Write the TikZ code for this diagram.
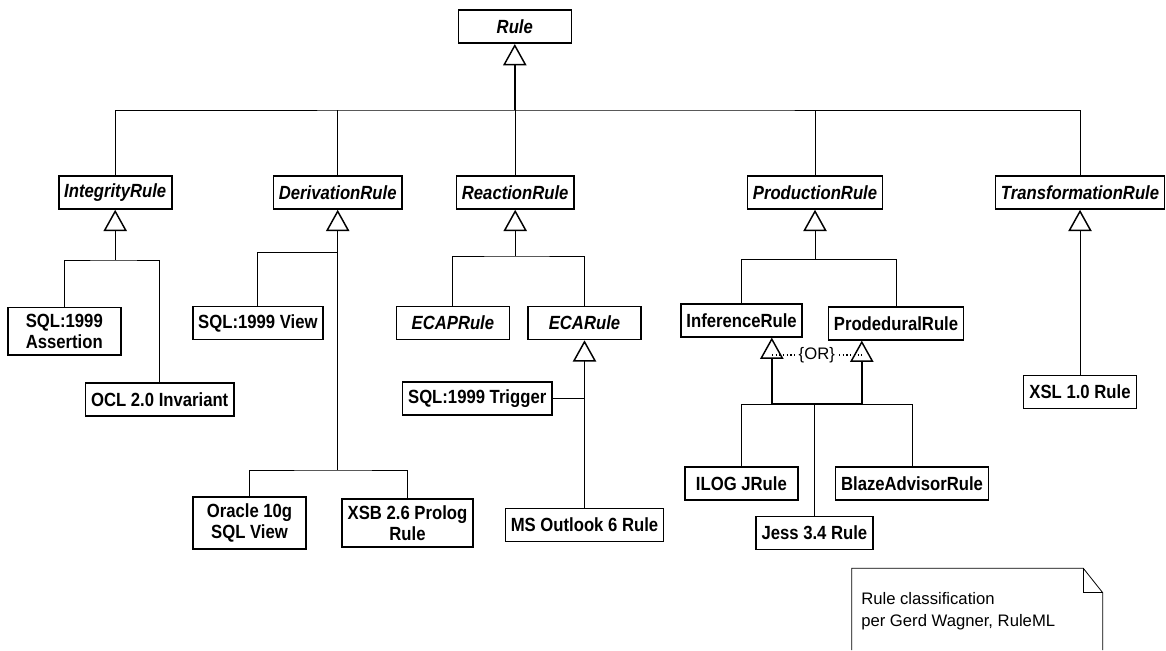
\documentclass[tikz,border=0pt]{standalone}
\usepackage{fontspec}
\setmainfont{Liberation Sans}
\newfontfamily\umlfont[FakeStretch=0.875]{Liberation Sans}
\usepackage{tikz}
\usetikzlibrary{arrows.meta}

\begin{document}
\begin{tikzpicture}[x=0.75pt,y=-0.75pt,
                    >={Triangle[open,length=16pt,width=17.5pt,line width=1.1pt]},
                    gen/.style={<-,line width=0.7pt},
                    bus/.style={line width=0.7pt}]
                    \tikzstyle{concrete}=[draw,line width=1.2pt,minimum width=84.75pt,minimum height=24.75pt,
                                          inner xsep=4.1pt,inner ysep=5pt,align=center,
                                          font=\umlfont\fontsize{14.3}{15.5}\selectfont\bfseries]
                    \tikzstyle{abstract}=[concrete,font=\umlfont\fontsize{14.3}{15.5}\selectfont\bfseries\itshape]
                    \useasboundingbox (0,0) rectangle (1166,650);

                    \node[abstract] (Rule) at (514.8,26.7) {Rule};

                    \node[abstract] (IntegrityRule) at (115.2,192.5) {IntegrityRule};
                    \node[abstract] (DerivationRule) at (337.7,192.5) {DerivationRule};
                    \node[abstract] (ReactionRule) at (515.2,192.5) {ReactionRule};
                    \node[abstract] (ProductionRule) at (815,192.5) {ProductionRule};
                    \node[abstract] (TransformationRule) at (1080,192.5) {TransformationRule};

                    \node[concrete] (Assertion) at (64.3,331.3) {SQL:1999\\Assertion};
                    \node[concrete] (OCLInvariant) at (159.7,399.2) {OCL 2.0 Invariant};
                    \node[concrete] (SQLView) at (257.9,323) {SQL:1999 View};
                    \node[concrete] (OracleView) at (249.5,523) {Oracle 10g\\SQL View};
                    \node[concrete] (XSBRule) at (407.5,523) {XSB 2.6 Prolog\\Rule};
                    \node[abstract] (ECAPRule) at (452.9,323) {ECAPRule};
                    \node[abstract] (ECARule) at (584.5,323) {ECARule};
                    \node[concrete] (Trigger) at (477.2,398.3) {SQL:1999 Trigger};
                    \node[concrete] (OutlookRule) at (584.5,525) {MS Outlook 6 Rule};
                    \node[concrete] (InferenceRule) at (741.6,320.3) {InferenceRule};
                    \node[concrete] (ProdeduralRule) at (896,323.3) {ProdeduralRule};
                    \node[concrete] (ILOGRule) at (741.4,483.3) {ILOG JRule};
                    \node[concrete] (BlazeRule) at (912,483.3) {BlazeAdvisorRule};
                    \node[concrete] (JessRule) at (814.4,533) {Jess 3.4 Rule};
                    \node[concrete] (XSLRule) at (1080,392) {XSL 1.0 Rule};

                    \coordinate (top) at (514.8,110);
                    \coordinate (ir) at (115.2,260);
                    \coordinate (dr1) at (337.7,252.3);
                    \coordinate (dr2) at (337.7,470);
                    \coordinate (rr) at (515.2,256);
                    \coordinate (pr) at (815,259.3);
                    \coordinate (inf) at (771.8,404);
                    \coordinate (proc) at (861.8,404);
                    \coordinate (orl) at (771.8,355);
                    \coordinate (orr) at (861.8,355);

                    \draw[gen,line width=1.1pt] (Rule) -- (top);
                    \draw[bus] (IntegrityRule.north) |- (top) -| (TransformationRule.north);
                    \draw[bus] (DerivationRule.north) -- (DerivationRule.north |- top);
                    \draw[bus] (ReactionRule.north) -- (ReactionRule.north |- top);
                    \draw[bus] (ProductionRule.north) -- (ProductionRule.north |- top);

                    \draw[gen] (IntegrityRule) -- (ir);
                    \draw[bus] (Assertion.north) |- (ir) -| (OCLInvariant.north);
                    \draw[gen] (DerivationRule) -- (dr2);
                    \draw[bus] (SQLView.north) |- (dr1);
                    \draw[bus] (OracleView.north) |- (dr2) -| (XSBRule.north);
                    \draw[gen] (ReactionRule) -- (rr);
                    \draw[bus] (ECAPRule.north) |- (rr) -| (ECARule.north);
                    \draw[gen] (ECARule) -- (OutlookRule);
                    \draw[bus] (Trigger) -- (Trigger -| ECARule);
                    \draw[gen] (ProductionRule) -- (pr);
                    \draw[bus] (InferenceRule.north) |- (pr) -| (ProdeduralRule.north);
                    \draw[gen,line width=1.1pt] (InferenceRule.south -| inf) -- (inf);
                    \draw[gen,line width=1.1pt] (ProdeduralRule.south -| proc) -- (proc);
                    \draw[line width=1.1pt] (inf) -- (proc);
                    \draw[bus] (ILOGRule.north) |- (inf);
                    \draw[bus] (proc) -| (BlazeRule.north);
                    \draw[bus] (JessRule.north) -- (JessRule.north |- inf);
                    \draw[dotted,line width=0.8pt] (orl) -- node[fill=white,inner sep=1pt,font=\fontsize{12.5}{15}\selectfont] (orlabel) {\{OR\}} (orr);
                    \draw[gen] (TransformationRule) -- (XSLRule);

                    \draw[line width=0.6pt] (851.7,650) -- (851.7,568.3) -- (1083.3,568.3) -- (1102.7,592.7) -- (1102.7,650);
                    \draw[line width=0.6pt] (1083.3,568.3) -- (1083.3,592.7) -- (1102.7,592.7);
                    \node[anchor=base west,align=left,inner sep=0pt,font=\fontsize{12.5}{16.5}\selectfont] (note) at (861,626) {Rule classification\\per Gerd Wagner, RuleML};
                \end{tikzpicture}
\end{document}
